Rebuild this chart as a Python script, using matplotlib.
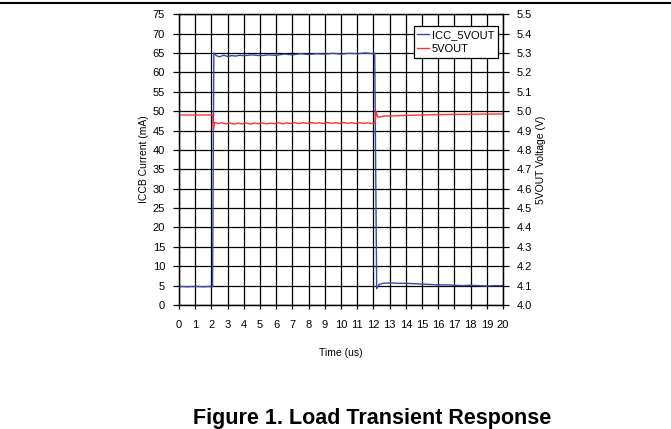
import matplotlib.pyplot as plt
import matplotlib.lines as mlines
import numpy as np

plt.rcParams['font.family'] = ['Liberation Sans', 'DejaVu Sans']

# ICCB current (mA) vs time (us)
t_icc = [0, 0.5, 1.0, 1.5, 2.0, 2.07, 2.15, 2.3, 2.5, 2.75, 3.0, 3.25, 3.5, 3.75, 4.0,
         4.5, 5.0, 5.5, 6.0, 6.5, 7.0, 7.5, 8.0, 8.5, 9.0, 9.5, 10.0, 10.5, 11.0,
         11.5, 12.0, 12.08, 12.2, 12.35, 12.6, 13.0, 13.5, 14.0, 14.5, 15.0, 15.5,
         16.0, 16.5, 17.0, 17.5, 18.0, 18.5, 19.0, 19.5, 20.0]
icc = [4.8, 4.7, 4.8, 4.7, 4.8, 4.8, 65.0, 64.3, 64.0, 64.4, 64.1, 64.3, 64.2, 64.4, 64.3,
       64.5, 64.3, 64.5, 64.4, 64.7, 64.5, 64.8, 64.6, 64.8, 64.7, 64.9, 64.7, 64.9, 64.8,
       65.0, 64.8, 64.9, 4.2, 5.3, 5.6, 5.7, 5.6, 5.6, 5.5, 5.4, 5.3,
       5.2, 5.2, 5.1, 5.0, 5.1, 5.0, 4.9, 5.0, 5.0]

# 5VOUT voltage (V) vs time (us)
t_vout = [0, 1.0, 2.0, 2.07, 2.12, 2.2, 2.4, 2.65, 2.9, 3.15, 3.4, 3.65, 3.9, 4.15, 4.4,
          4.65, 4.9, 5.15, 5.4, 5.65, 5.9, 6.15, 6.4, 6.65, 6.9, 7.15, 7.4, 7.65, 7.9,
          8.15, 8.4, 8.65, 8.9, 9.15, 9.4, 9.65, 9.9, 10.15, 10.4, 10.65, 10.9, 11.15,
          11.4, 11.65, 11.9, 12.1, 12.17, 12.25, 12.35, 12.6, 13.0, 14.0, 15.0, 16.0,
          17.0, 18.0, 19.0, 20.0]
vout = [4.98, 4.98, 4.98, 4.98, 4.905, 4.942, 4.936, 4.94, 4.934, 4.939, 4.933, 4.938, 4.934, 4.939, 4.933,
        4.938, 4.935, 4.939, 4.934, 4.938, 4.935, 4.94, 4.935, 4.939, 4.936, 4.94, 4.936, 4.94, 4.937,
        4.941, 4.937, 4.94, 4.936, 4.941, 4.937, 4.94, 4.937, 4.941, 4.937, 4.94, 4.936, 4.94,
        4.937, 4.94, 4.936, 4.937, 5.0, 4.972, 4.968, 4.974, 4.975, 4.978, 4.98, 4.982,
        4.983, 4.984, 4.985, 4.985]

blue = '#3a48a8'
red = '#ff3333'

fig = plt.figure(figsize=(6.71, 4.29), dpi=100)
ax = fig.add_axes([0.2668, 0.289, 0.4829, 0.678])
ax2 = ax.twinx()

ax.set_xlim(0, 20)
ax.set_ylim(0, 75)
ax2.set_ylim(4.0, 5.5)
ax.set_xticks(np.arange(0, 21, 1))
ax.set_yticks(np.arange(0, 76, 5))
ax2.set_yticks(np.arange(4.0, 5.51, 0.1))
ax2.set_yticklabels([f'{v:.1f}' for v in np.arange(4.0, 5.51, 0.1)])

ax.grid(True, color='black', linewidth=0.9)
ax.set_axisbelow(True)

ax.plot(t_icc, icc, color=blue, lw=1.0)
ax2.plot(t_vout, vout, color=red, lw=1.0)

for a in (ax, ax2):
    a.tick_params(labelsize=8, length=4, width=0.9, direction='out', pad=6)
    for s in a.spines.values():
        s.set_linewidth(0.9)
ax.tick_params(axis='x', length=3, pad=8)

ax.set_xlabel('Time (us)', fontsize=7.5, labelpad=13)
ax.set_ylabel('ICCB Current (mA)', fontsize=7.5, labelpad=3)
ax2.set_ylabel('5VOUT Voltage (V)', fontsize=7.5, labelpad=3)

h1 = mlines.Line2D([], [], color=blue, lw=1.0)
h2 = mlines.Line2D([], [], color=red, lw=1.0)
leg = ax2.legend([h1, h2], ['ICC_5VOUT', '5VOUT'], loc='upper right',
                 bbox_to_anchor=(0.985, 0.96), fontsize=8, frameon=True,
                 fancybox=False, edgecolor='black', framealpha=1,
                 handlelength=1.0, handletextpad=0.3, borderpad=0.35,
                 labelspacing=0.4, borderaxespad=0)
leg.get_frame().set_linewidth(0.9)

fig.text(0.554, 0.011, 'Figure 1. Load Transient Response', ha='center', va='baseline',
         fontsize=15.5, fontweight='bold')
fig.add_artist(mlines.Line2D([0, 1], [0.993, 0.993], color='black', lw=1.5,
                             transform=fig.transFigure))

fig.savefig('out.png', dpi=100)
